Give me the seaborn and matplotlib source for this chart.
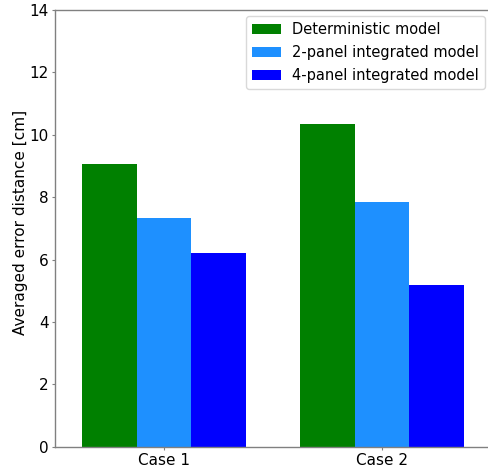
import matplotlib
matplotlib.use("Agg")
import matplotlib.pyplot as plt
import pandas as pd
import seaborn as sns

cases = ["Case 1", "Case 2"]
models = ["Deterministic model", "2-panel integrated model", "4-panel integrated model"]
deterministic = [9.08, 10.35]
panel2 = [7.33, 7.85]
panel4 = [6.2, 5.2]
colors = ["green", "dodgerblue", "blue"]
yticks = [0, 2, 4, 6, 8, 10, 12, 14]

df = pd.DataFrame({
    "case": cases * 3,
    "model": [m for m in models for _ in cases],
    "error": deterministic + panel2 + panel4,
})

sns.set_style("white")
plt.rcParams["font.family"] = ["DejaVu Sans"]
plt.rcParams["text.color"] = "black"
plt.rcParams["axes.labelcolor"] = "black"
plt.rcParams["xtick.color"] = "black"
plt.rcParams["ytick.color"] = "black"

fig = plt.figure(figsize=(4.89, 4.68), dpi=100)
ax = fig.add_axes([0.1125, 0.0455, 0.8875, 0.933])

sns.barplot(data=df, x="case", y="error", hue="model", hue_order=models,
            palette=colors, width=0.75, saturation=1, ax=ax, errorbar=None,
            linewidth=0)

ax.set_xlim(-0.5, 1.49)
ax.set_ylim(0, 14)
ax.set_yticks(yticks)
ax.set_xlabel("")
ax.set_ylabel("Averaged error distance [cm]", fontsize=11)
ax.yaxis.set_label_coords(-0.062, 0.513)
ax.tick_params(axis="both", labelsize=11, length=2.5, width=0.8,
               pad=2, left=True, bottom=True)
ax.tick_params(axis="both", color="gray")
for side in ["left", "bottom", "top"]:
    ax.spines[side].set_color("gray")
    ax.spines[side].set_linewidth(1.0)
ax.spines["right"].set_visible(False)

leg = ax.legend(loc="upper right", fontsize=10.5, frameon=True,
                labelspacing=0.55, borderaxespad=0,
                bbox_to_anchor=(0.991, 0.986))
leg.get_frame().set_edgecolor("#d0d0d0")

fig.savefig("out.png", dpi=100)
